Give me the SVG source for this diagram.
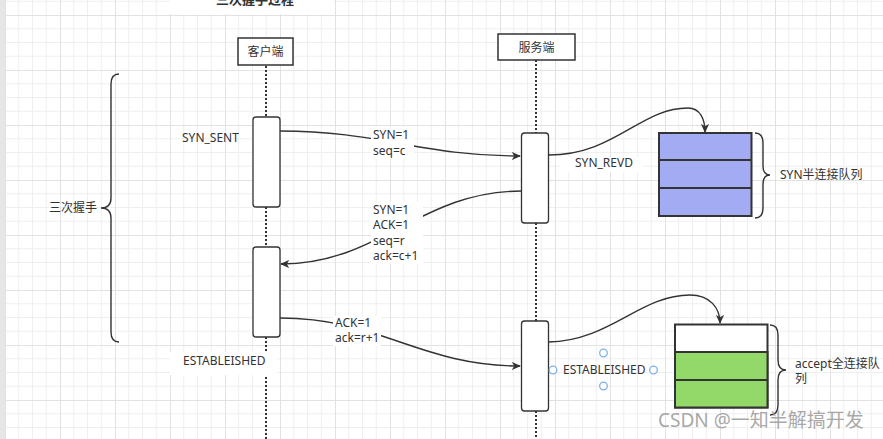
<svg xmlns="http://www.w3.org/2000/svg" width="883" height="439" viewBox="0 0 883 439">
<defs>
<pattern id="grid" patternUnits="userSpaceOnUse" x="5" y="15" width="55" height="55">
<path d="M13.75,0V55M27.5,0V55M41.25,0V55M0,13.75H55M0,27.5H55M0,41.25H55" stroke="#efefef" stroke-width="1" fill="none"/>
<path d="M0.5,0V55M0,0.5H55" stroke="#e2e2e2" stroke-width="1" fill="none"/>
</pattern>
<marker id="arr" viewBox="0 0 10 10" refX="9" refY="5" markerWidth="9" markerHeight="9" markerUnits="userSpaceOnUse" orient="auto">
<path d="M0,0.5L10,5L0,9.5L2.5,5Z" fill="#333"/>
</marker>
<style>
text{font-family:"Noto Sans","Noto Sans CJK SC",sans-serif;font-size:12px;fill:#333;}
.box{fill:#fff;stroke:#333;stroke-width:1.5;}
.act{fill:#fff;stroke:#333;stroke-width:1.3;}
.life{stroke:#333;stroke-width:2;stroke-dasharray:2 2;fill:none;}
.conn{fill:none;stroke:#333;stroke-width:1.4;}
.brace{fill:none;stroke:#333;stroke-width:1.4;}
.bg{fill:#fff;}
.q{stroke:#333;stroke-width:2;}
.handle{fill:#fff;stroke:#7fb2e8;stroke-width:1.3;}
</style>
</defs>
<rect width="883" height="439" fill="#fff"/>
<rect width="883" height="439" fill="url(#grid)"/>
<rect x="0" y="0" width="5" height="439" fill="#e6e6e6"/>
<g id="title">
<rect x="170" y="0" width="163" height="14" class="bg"/>
<text x="255" y="4" text-anchor="middle" style="font-weight:bold;font-size:13px">三次握手过程</text>
</g>
<g id="lifelines">
<path class="life" d="M266,66V117M266,207V247M266,337V439"/>
<path class="life" d="M536,60V133M536,223V321M536,411V439"/>
</g>
<g id="client">
<rect class="box" x="238" y="38" width="55" height="27"/>
<text x="265.5" y="56" text-anchor="middle">客户端</text>
</g>
<g id="server">
<rect class="box" x="498" y="34" width="77" height="26"/>
<text x="536.5" y="52" text-anchor="middle">服务端</text>
</g>
<g id="client-act1"><rect class="act" x="253" y="117" width="27" height="90" rx="3"/></g>
<g id="client-act2"><rect class="act" x="253" y="247" width="27" height="90" rx="3"/></g>
<g id="server-act1"><rect class="act" x="521.5" y="133" width="27" height="90" rx="3"/></g>
<g id="server-act2"><rect class="act" x="521.5" y="321" width="27" height="90" rx="3"/></g>
<g id="syn-revd">
<rect class="bg" x="560" y="157" width="83" height="15"/>
<text x="575" y="167">SYN_REVD</text>
</g>
<g id="connectors">
<path class="conn" d="M280,131 C380,131 420,156 520,156" marker-end="url(#arr)"/>
<path class="conn" d="M521.5,191 C420,191 380,264 281,264" marker-end="url(#arr)"/>
<path class="conn" d="M280,318 C380,318 420,366 520,366" marker-end="url(#arr)"/>
<path class="conn" d="M548.5,155 C615,155 640,108 688,108 C700,108 705,119 705,132" marker-end="url(#arr)"/>
<path class="conn" d="M548.5,342 C610,341 640,295 690,295 C710,295 720,308 720,323" marker-end="url(#arr)"/>
</g>
<g id="label-syn">
<rect class="bg" x="371" y="127" width="43" height="32"/>
<text x="373" y="139">SYN=1</text>
<text x="373" y="155">seq=c</text>
</g>
<g id="label-synack">
<rect class="bg" x="371" y="202" width="52" height="62"/>
<text x="373" y="214">SYN=1</text>
<text x="373" y="229">ACK=1</text>
<text x="373" y="245">seq=r</text>
<text x="373" y="260">ack=c+1</text>
</g>
<g id="label-ack">
<rect class="bg" x="333" y="316" width="48" height="30"/>
<text x="335" y="327">ACK=1</text>
<text x="335" y="342">ack=r+1</text>
</g>
<g id="handshake">
<path class="brace" d="M119,74 Q111,74 111,84 L111,198 Q111,208 101,208 Q111,208 111,218 L111,332 Q111,342 119,342"/>
<text x="49" y="212">三次握手</text>
</g>
<g id="syn-sent"><text x="182" y="142">SYN_SENT</text></g>
<g id="established-client">
<rect class="bg" x="170" y="352" width="107" height="23"/>
<text x="183" y="365">ESTABLEISHED</text>
</g>
<g id="syn-queue">
<rect x="659" y="133" width="92.5" height="83" fill="#a3abf2" class="q"/>
<path class="q" d="M659,160H751.5M659,188H751.5"/>
<path class="brace" d="M755,133 Q763,133 763,143 L763,166 Q763,175 770,175 Q763,175 763,184 L763,208 Q763,218 755,218"/>
<text x="780" y="179">SYN半连接队列</text>
</g>
<g id="accept-queue">
<rect x="675" y="324.5" width="92.5" height="83" fill="#fff" class="q"/>
<rect x="675" y="352" width="92.5" height="55.5" fill="#92d96a" class="q"/>
<path class="q" d="M675,380H767.5"/>
<path class="brace" d="M770,325 Q778,325 778,335 L778,360 Q778,370 786,370 Q778,370 778,380 L778,405 Q778,415 770,415"/>
<text x="795" y="368">accept全连接队</text>
<text x="795" y="383">列</text>
</g>
<g id="established-server">
<text x="563" y="374">ESTABLEISHED</text>
<circle class="handle" cx="603.5" cy="353" r="3.8"/>
<circle class="handle" cx="553" cy="370" r="3.8"/>
<circle class="handle" cx="653.5" cy="370" r="3.8"/>
<circle class="handle" cx="603.5" cy="386" r="3.8"/>
</g>
<g id="watermark">
<text x="658" y="427" style="font-size:19px;fill:#9a9a9a;opacity:0.85">CSDN @一知半解搞开发</text>
</g>
</svg>
